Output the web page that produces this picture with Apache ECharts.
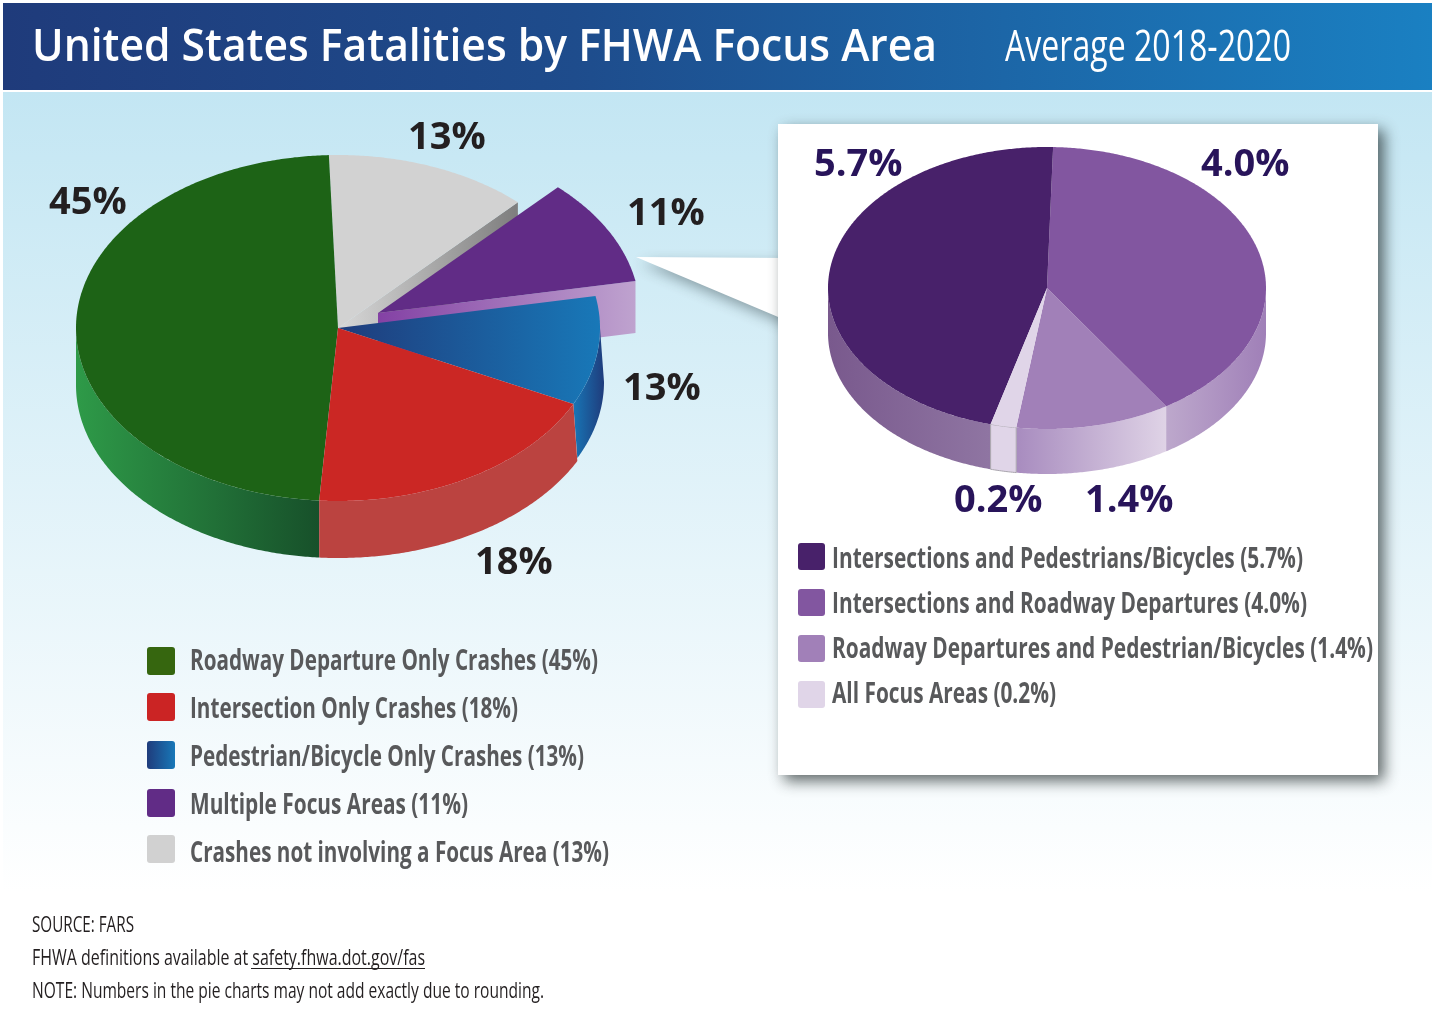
<!DOCTYPE html>
<html>
<head>
<meta charset="utf-8">
<style>html,body{margin:0;padding:0;background:#fff}#c{width:1435px;height:1012px}</style>
<script src="https://cdn.jsdelivr.net/npm/echarts@6/dist/echarts.min.js"></script>
</head>
<body>
<div id="c"></div>
<script>
// ---------- data ----------
const titleText = 'United States Fatalities by FHWA Focus Area';
const subtitleText = 'Average 2018-2020';
const leftCategories = ['Roadway Departure Only Crashes', 'Intersection Only Crashes', 'Pedestrian/Bicycle Only Crashes', 'Multiple Focus Areas', 'Crashes not involving a Focus Area'];
const leftValues = [45, 18, 13, 11, 13];
// Share of the circle each slice occupies as drawn: the artwork is not strictly proportional to its printed labels.
const leftDrawnShares = [48.3, 18.9, 10.2, 10.0, 12.6];
const rightCategories = ['Intersections and Pedestrians/Bicycles', 'Intersections and Roadway Departures', 'Roadway Departures and Pedestrian/Bicycles', 'All Focus Areas'];
const rightValues = [5.7, 4.0, 1.4, 0.2];
const rightDrawnShares = [46.3, 40.4, 11.4, 1.9];
const sourceNotes = ['SOURCE: FARS', 'FHWA definitions available at safety.fhwa.dot.gov/fas', 'NOTE: Numbers in the pie charts may not add exactly due to rounding.'];

// ---------- layout & style ----------
const lg = (x0, x1, a, b) => new echarts.graphic.LinearGradient(x0, 0, x1, 0, [{offset:0,color:a},{offset:1,color:b}], true);
const LEFT = {cx:338, cy:328, rx:262, ry:173, depth:57, start:-2, order:[4,3,2,1,0], values:leftDrawnShares};
const RIGHT = {cx:1047, cy:288, rx:219, ry:141, depth:45, start:1.6, order:[1,2,3,0], values:rightDrawnShares};
const LEFT_STYLE = [
  {z:4, top:'#1d6316', wall:lg(76,320,'#2e9a48','#17502a')},
  {z:6, top:'#cb2724', wall:'#bb4340', shiftFrom:4},
  {z:5, top:lg(338,600,'#1f3c7c','#1878b8'), wall:lg(572,604,'#1878b8','#1f3c7c'), shiftFrom:4, shiftTo:4, depth:54},
  {z:3, top:'#612c86', face:lg(376,636,'#8340a4','#bfa3cf'), depth:52, dx:40, dy:-15, noWall:true},
  {z:2, top:'#d2d2d2', face:lg(338,515,'#d8d8d8','#7f7f7f'), noWall:true}
];
const RIGHT_STYLE = [
  {z:6, top:'#48216a', wall:lg(828,990,'#79598d','#8f75a2')},
  {z:5, top:'#8256a0', wall:lg(1166,1265,'#bda8cc','#a080b8')},
  {z:4, top:'#a180b8', wall:lg(1017,1166,'#a88cbf','#dfd3e6')},
  {z:7, top:'#e0d5e8', wall:'#e0d5e8', wallStroke:'#aaa6ae'}
];
const LEFT_SWATCH = ['#36660f', '#cb2424',
  new echarts.graphic.LinearGradient(0,0,1,0,[{offset:0,color:'#1f3c7c'},{offset:1,color:'#1878b8'}]), '#612c86', '#d1d1d1'];
const RIGHT_SWATCH = ['#48216a', '#8256a0', '#a180b8', '#e0d5e8'];
const LEFT_LEGEND = {x:147, y:[647,693,741,789,835], size:28, textX:190, textY:[662,710,758,806,854], widths:[408,328,394,278,419], decimals:0};
const RIGHT_LEGEND = {x:798, y:[543,589,635,681], size:27, textX:832, textY:[560,605,650,695], widths:[471,475,541,224], decimals:1};
const OPEN = '"Open Sans",sans-serif';

// cumulative clockwise-from-top angle pairs for each slice
function sliceAngles(pie) {
  const total = pie.values.reduce((a,b)=>a+b,0);
  const out = [];
  let a = pie.start;
  pie.order.forEach(i => {
    const sweep = pie.values[i] / total * 360;
    out[i] = [a, a + sweep];
    a += sweep;
  });
  return out;
}
function pt(pie, deg, dx, dy) {
  const r = deg * Math.PI / 180;
  return [pie.cx + (dx||0) + pie.rx * Math.sin(r), pie.cy + (dy||0) - pie.ry * Math.cos(r)];
}
function arc(pie, a0, a1, dx, dy, shiftA, shiftB) {
  const pts = [], n = Math.max(2, Math.ceil(Math.abs(a1 - a0) * 2));
  for (let i = 0; i <= n; i++) {
    const t = i / n, sh = (shiftA||0) + ((shiftB||0) - (shiftA||0)) * t;
    pts.push(pt(pie, a0 + (a1 - a0) * t, (dx||0) + sh, dy));
  }
  return pts;
}
function sliceSeries(pie, styles, names, values) {
  const angles = sliceAngles(pie);
  return names.map((name, i) => ({
    type:'custom', name, coordinateSystem:'none', z:styles[i].z, silent:true, animation:false,
    data:[[values[i]]],
    renderItem() {
      const s = styles[i], [a0, a1] = angles[i], dx = s.dx||0, dy = s.dy||0, depth = s.depth||pie.depth;
      const children = [];
      if (s.face) {
        const c = [pie.cx+dx, pie.cy+dy], e = pt(pie, a1, dx, dy);
        children.push({type:'polygon', shape:{points:[c, e, [e[0], e[1]+depth], [c[0], c[1]+depth]]}, style:{fill:s.face}});
      }
      if (!s.noWall) {
        const w0 = Math.max(a0, 90), w1 = Math.min(a1, 270);
        if (w1 > w0) {
          const top = arc(pie, w0, w1, dx, dy);
          const bot = arc(pie, w1, w0, dx, dy+depth, s.shiftTo, s.shiftFrom);
          children.push({type:'polygon', shape:{points:top.concat(bot)},
            style:{fill:s.wall, stroke:s.wallStroke||null, lineWidth:s.wallStroke?1:0}});
        }
      }
      const topPts = [[pie.cx+dx, pie.cy+dy]].concat(arc(pie, a0, a1, dx, dy));
      children.push({type:'polygon', shape:{points:topPts}, style:{fill:s.top}});
      return {type:'group', children};
    }
  }));
}
const measureCtx = document.createElement('canvas').getContext('2d');
// text squeezed horizontally to the condensed width of the original typeface
function fitText(text, x, y, width, color, font) {
  measureCtx.font = font;
  const scaleX = width / measureCtx.measureText(text).width;
  return {type:'text', z:50, silent:true, x, y, scaleX, originX:0,
    style:{text, fill:color, font, textAlign:'left', textVerticalAlign:'middle'}};
}
const lbl = (text, x, y, color) => ({type:'text', z:50, silent:true, x, y,
  style:{text, fill:color, font:`bold 38px ${OPEN}`, textAlign:'left', textVerticalAlign:'middle'}});
function legendItems(cfg, names, values, swatches) {
  const out = [];
  names.forEach((n, i) => {
    out.push({type:'rect', z:50, silent:true, shape:{x:cfg.x, y:cfg.y[i], width:cfg.size, height:cfg.size, r:3}, style:{fill:swatches[i]}});
    out.push(fitText(`${n} (${values[i].toFixed(cfg.decimals)}%)`, cfg.textX, cfg.textY[i], cfg.widths[i], '#58595b', `bold 28px ${OPEN}`));
  });
  return out;
}
const darkLbl = '#231f20', navyLbl = '#28145a';
const noteFont = `21px ${OPEN}`;

const option = {
  animation:false,
  backgroundColor:'#ffffff',
  graphic:{elements:[
    {type:'rect', z:-10, silent:true, shape:{x:3,y:92,width:1429,height:920},
     style:{fill:new echarts.graphic.LinearGradient(0,0,0,1,[{offset:0,color:'#c3e6f3'},{offset:0.87,color:'#ffffff'},{offset:1,color:'#ffffff'}])}},
    {type:'rect', z:-9, silent:true, shape:{x:3,y:3,width:1429,height:87},
     style:{fill:new echarts.graphic.LinearGradient(0,0,1,0,[{offset:0,color:'#1f3b7b'},{offset:0.4,color:'#1e4c8c'},{offset:1,color:'#1a80c2'}])}},
    {type:'polygon', z:-8, silent:true, shape:{points:[[636,257],[790,258],[790,322]]},
     style:{fill:'#ffffff', shadowBlur:14, shadowColor:'rgba(40,55,60,0.45)', shadowOffsetX:4, shadowOffsetY:6}},
    {type:'rect', z:-7, silent:true, shape:{x:778,y:124,width:600,height:651},
     style:{fill:'#ffffff', shadowBlur:14, shadowColor:'rgba(30,40,40,0.7)', shadowOffsetX:6, shadowOffsetY:6}},
    fitText(titleText, 32, 48, 905, '#ffffff', `600 46px ${OPEN}`),
    fitText(subtitleText, 1005, 48, 286, '#ffffff', `44px ${OPEN}`),
    // printed percentages
    lbl(`${leftValues[0]}%`, 49, 203, darkLbl),
    lbl(`${leftValues[1]}%`, 475, 563, darkLbl),
    lbl(`${leftValues[2]}%`, 623, 389, darkLbl),
    lbl(`${leftValues[3]}%`, 627, 214, darkLbl),
    lbl(`${leftValues[4]}%`, 408, 138, darkLbl),
    lbl(`${rightValues[0].toFixed(1)}%`, 814, 165, navyLbl),
    lbl(`${rightValues[1].toFixed(1)}%`, 1201, 165, navyLbl),
    lbl(`${rightValues[2].toFixed(1)}%`, 1085, 501, navyLbl),
    lbl(`${rightValues[3].toFixed(1)}%`, 954, 501, navyLbl),
    ...legendItems(LEFT_LEGEND, leftCategories, leftValues, LEFT_SWATCH),
    ...legendItems(RIGHT_LEGEND, rightCategories, rightValues, RIGHT_SWATCH),
    // notes
    fitText(sourceNotes[0], 32, 926, 102, darkLbl, noteFont),
    fitText(sourceNotes[1], 32, 959, 393, darkLbl, noteFont),
    fitText(sourceNotes[2], 32, 992, 512, darkLbl, noteFont),
    {type:'line', z:50, silent:true, shape:{x1:251,y1:968.5,x2:425,y2:968.5}, style:{stroke:darkLbl, lineWidth:1}}
  ]},
  series:[...sliceSeries(LEFT, LEFT_STYLE, leftCategories, leftValues),
          ...sliceSeries(RIGHT, RIGHT_STYLE, rightCategories, rightValues)]
};
const chart = echarts.init(document.getElementById('c'), null, {renderer:'canvas', width:1435, height:1012});
chart.setOption(option);
</script>
</body>
</html>
